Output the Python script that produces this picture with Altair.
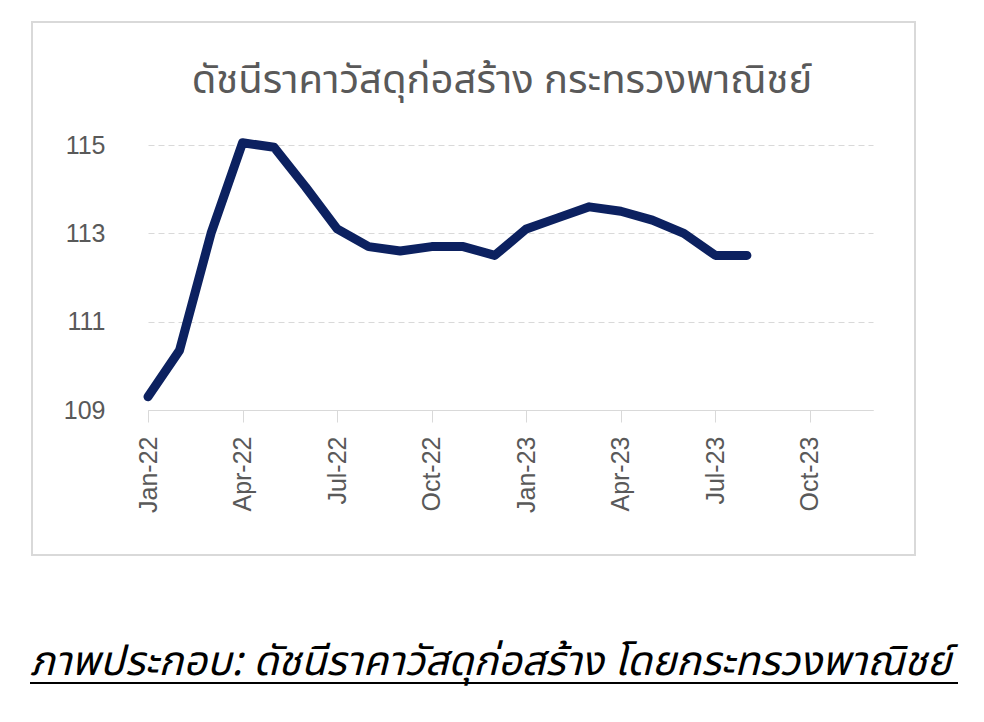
import altair as alt
import pandas as pd

# data
months = ["Jan-22","Feb-22","Mar-22","Apr-22","May-22","Jun-22","Jul-22","Aug-22","Sep-22","Oct-22",
          "Nov-22","Dec-22","Jan-23","Feb-23","Mar-23","Apr-23","May-23","Jun-23","Jul-23","Aug-23"]
values = [109.3, 110.35, 113.0, 115.05, 114.95, 114.05, 113.1, 112.7, 112.6, 112.7,
          112.7, 112.5, 113.1, 113.35, 113.6, 113.5, 113.3, 113.0, 112.5, 112.5]
tick_labels = ["Jan-22","Apr-22","Jul-22","Oct-22","Jan-23","Apr-23","Jul-23","Oct-23"]
y_ticks = [109, 111, 113, 115]
title_text = "ดัชนีราคาวัสดุก่อสร้าง กระทรวงพาณิชย์"
caption_text = "ภาพประกอบ: ดัชนีราคาวัสดุก่อสร้าง โดยกระทรวงพาณิชย์"

df = pd.DataFrame({"idx": list(range(len(months))), "month": months, "value": values})
tick_idx = [i * 3 for i in range(len(tick_labels))]
label_expr = "[" + ",".join("'%s'" % t for t in tick_labels) + "][round(datum.value/3)]"

FONT = "Noto Sans Thai, Loma, Garuda, Tlwg Typo, Liberation Sans, sans-serif"
GRAY = "#595959"
W, H = 725, 265

line = alt.Chart(df).mark_line(color="#0c2160", strokeWidth=9, strokeCap="round",
                               strokeJoin="round", clip=False).encode(
    x=alt.X("idx:Q", scale=alt.Scale(domain=[0, 23], nice=False, zero=False),
            axis=alt.Axis(values=tick_idx, labelExpr=label_expr, title=None, labelAngle=-90,
                          labelFontSize=25, labelColor=GRAY, labelFont="Liberation Sans",
                          domainColor="#d9d9d9", tickColor="#d9d9d9", tickSize=12,
                          labelPadding=14, grid=False)),
    y=alt.Y("value:Q", scale=alt.Scale(domain=[109, 115], nice=False, zero=False),
            axis=alt.Axis(values=y_ticks, title=None, ticks=False, domain=False,
                          labelFontSize=25, labelColor=GRAY, labelFont="Liberation Sans",
                          labelPadding=43, grid=True, gridDash=[6, 4], gridColor="#d9d9d9",
                          gridWidth=1.2)),
)

dummy = pd.DataFrame({"a": [0]})

box = alt.Chart(dummy).mark_rect(fill=None, stroke="#d9d9d9", strokeWidth=2, clip=False).encode(
    x=alt.value(-116), x2=alt.value(767), y=alt.value(-123), y2=alt.value(410))

title = alt.Chart(dummy).mark_text(font=FONT, fontSize=40, color=GRAY, align="center",
                                   baseline="middle").encode(
    x=alt.value(354), y=alt.value(-64), text=alt.value(title_text))

caption = alt.Chart(dummy).mark_text(font=FONT, fontSize=41, color="#000000", align="left",
                                     baseline="alphabetic", fontStyle="italic").encode(
    x=alt.value(-118), y=alt.value(530), text=alt.value(caption_text))

underline = alt.Chart(dummy).mark_rule(color="#000000", strokeWidth=2, clip=False).encode(
    x=alt.value(-118), x2=alt.value(810), y=alt.value(538))

chart = alt.layer(box, line, title, caption, underline).properties(
    width=W, height=H,
    background="white",
    autosize=alt.AutoSizeParams(type="none"),
    padding={"left": 140, "top": 137, "right": 100, "bottom": 300},
).configure_view(stroke=None, strokeWidth=0)

chart.save("out.html", embed_options={"renderer": "svg", "actions": False})
